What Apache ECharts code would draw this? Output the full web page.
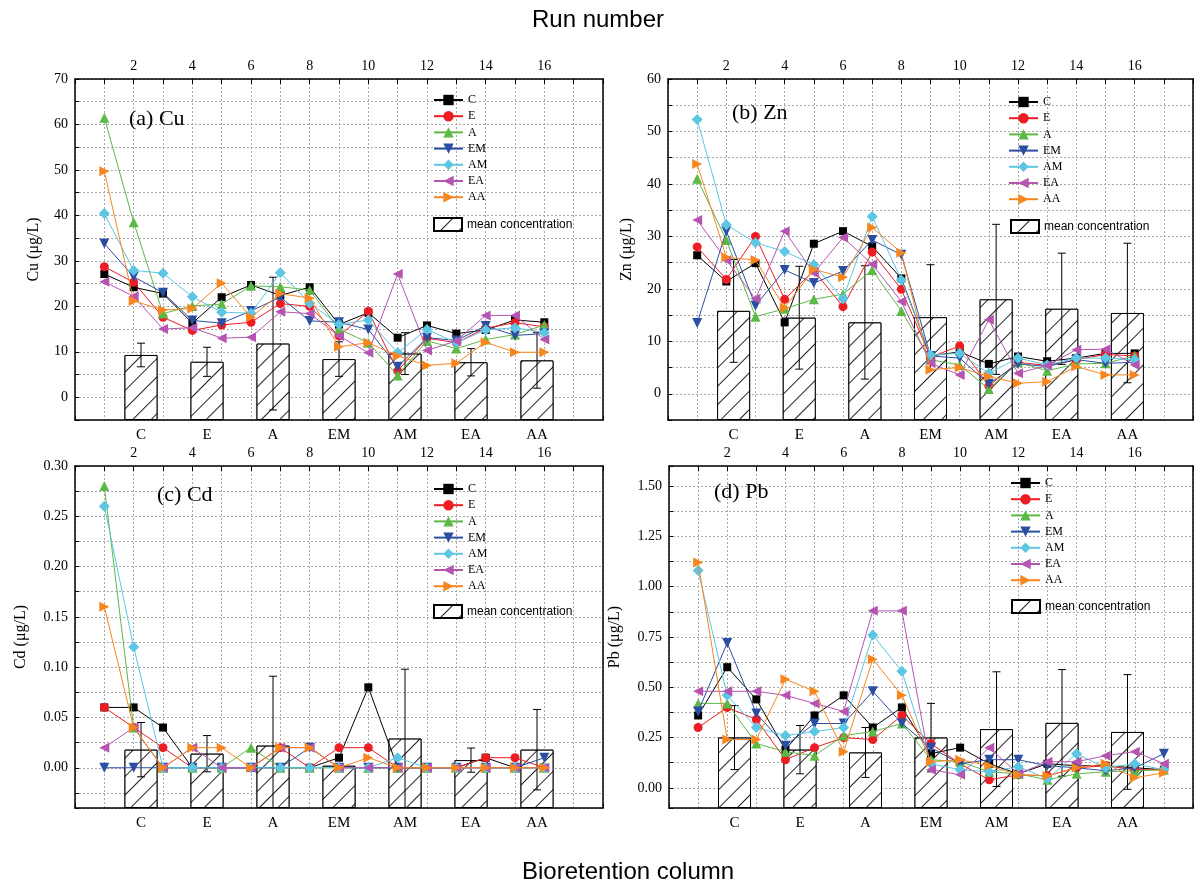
<!DOCTYPE html>
<html>
<head>
<meta charset="utf-8">
<script src="https://cdn.jsdelivr.net/npm/echarts@6/dist/echarts.min.js"></script>
<style>html,body{margin:0;padding:0;background:#fff;}#c{width:1196px;height:884px;}</style>
</head>
<body>
<div id="c"></div>
<script>
// ---------- data ----------
const seriesNames = ['C', 'E', 'A', 'EM', 'AM', 'EA', 'AA'];
const columns = ['C', 'E', 'A', 'EM', 'AM', 'EA', 'AA'];
const runs16 = [1, 2, 3, 4, 5, 6, 7, 8, 9, 10, 11, 12, 13, 14, 15, 16];
const runs17 = [1, 2, 3, 4, 5, 6, 7, 8, 9, 10, 11, 12, 13, 14, 15, 16, 17];
const topTicks = [2, 4, 6, 8, 10, 12, 14, 16];

// (a) Cu
const cuC  = [27.1, 24.2, 22.8, 16.3, 22.0, 24.7, 22.4, 24.2, 16.0, 18.6, 13.1, 15.8, 14.0, 14.8, 17.0, 16.5];
const cuE  = [28.7, 25.3, 17.6, 14.7, 15.9, 16.5, 20.6, 20.0, 13.5, 18.9, 5.8, 13.0, 12.0, 15.2, 16.4, 15.5];
const cuA  = [61.5, 38.5, 18.4, 20.1, 20.5, 24.5, 24.3, 23.6, 15.0, 12.0, 4.8, 12.4, 10.7, 12.7, 13.8, 15.9];
const cuEM = [33.8, 26.5, 23.0, 16.9, 16.3, 19.0, 22.0, 16.8, 16.5, 14.9, 6.7, 13.1, 12.5, 15.7, 13.6, 14.0];
const cuAM = [40.4, 27.9, 27.3, 22.1, 18.7, 18.5, 27.4, 20.7, 16.0, 17.0, 9.8, 14.9, 12.0, 14.8, 15.3, 14.2];
const cuEA = [25.4, 22.2, 15.0, 15.3, 13.0, 13.2, 18.8, 18.4, 13.5, 9.8, 27.1, 10.3, 12.4, 18.0, 18.0, 12.7];
const cuAA = [49.7, 21.2, 19.2, 19.5, 25.1, 17.6, 22.8, 21.8, 11.1, 12.0, 9.1, 7.0, 7.5, 12.1, 9.9, 9.9];
const cuMean = [9.3, 7.8, 11.8, 8.4, 9.6, 7.7, 8.1];
const cuSd   = [2.6, 3.2, 14.6, 3.8, 4.6, 3.0, 6.1];

// (b) Zn
const znC  = [26.4, 21.4, 24.9, 13.6, 28.6, 31.0, 28.1, 22.0, 7.2, 8.0, 5.7, 7.1, 6.2, 6.8, 7.7, 7.7];
const znE  = [28.0, 21.8, 30.0, 18.0, 23.5, 16.6, 27.0, 19.9, 7.0, 9.1, 1.5, 6.0, 5.4, 6.5, 7.5, 7.2];
const znA  = [41.0, 29.3, 14.7, 16.2, 18.0, 19.0, 23.6, 15.8, 6.5, 5.5, 0.9, 6.0, 4.4, 5.7, 5.8, 7.2];
const znEM = [13.5, 31.0, 16.8, 23.6, 21.1, 23.4, 29.3, 26.5, 7.2, 6.8, 1.9, 5.7, 5.2, 6.5, 5.8, 6.0];
const znAM = [52.3, 32.2, 28.8, 27.1, 24.6, 18.1, 33.8, 21.7, 7.4, 7.7, 3.9, 6.8, 5.5, 6.8, 6.8, 6.5];
const znEA = [33.1, 25.5, 18.1, 31.0, 23.0, 29.8, 24.7, 17.6, 5.8, 3.6, 14.1, 3.9, 5.4, 8.4, 8.5, 5.5];
const znAA = [43.8, 26.0, 25.5, 16.4, 23.7, 22.2, 31.7, 26.9, 4.6, 5.0, 3.3, 2.0, 2.3, 5.2, 3.6, 3.6];
const znMean = [15.8, 14.5, 13.6, 14.6, 18.0, 16.2, 15.4];
const znSd   = [9.8, 9.8, 10.8, 10.0, 14.3, 10.6, 13.3];

// (c) Cd
const cdC  = [0.06, 0.06, 0.04, 0, 0, 0, 0, 0, 0.01, 0.08, 0, 0, 0, 0.01, 0, 0];
const cdE  = [0.06, 0.04, 0.02, 0, 0, 0, 0.02, 0, 0.02, 0.02, 0, 0, 0, 0.01, 0.01, 0];
const cdA  = [0.28, 0.04, 0, 0, 0, 0.02, 0, 0, 0, 0, 0, 0, 0, 0, 0, 0];
const cdEM = [0, 0, 0, 0, 0, 0, 0, 0.02, 0, 0, 0, 0, 0, 0, 0, 0.01];
const cdAM = [0.26, 0.12, 0, 0, 0, 0, 0, 0, 0, 0, 0.01, 0, 0, 0, 0, 0];
const cdEA = [0.02, 0.04, 0, 0.02, 0, 0, 0.02, 0.02, 0, 0, 0, 0, 0, 0, 0, 0];
const cdAA = [0.16, 0.04, 0, 0.02, 0.02, 0, 0.02, 0.02, 0, 0.01, 0, 0, 0, 0, 0, 0];
const cdMean = [0.018, 0.014, 0.022, 0.002, 0.029, 0.0076, 0.018];
const cdSd   = [0.027, 0.018, 0.069, 0.002, 0.069, 0.012, 0.040];

// (d) Pb
const pbC  = [0.36, 0.60, 0.44, 0.19, 0.36, 0.46, 0.30, 0.40, 0.17, 0.20, 0.12, 0.07, 0.12, 0.11, 0.11, 0.10, 0.09];
const pbE  = [0.30, 0.40, 0.34, 0.14, 0.20, 0.25, 0.24, 0.36, 0.22, 0.12, 0.04, 0.065, 0.06, 0.10, 0.11, 0.09, 0.09];
const pbA  = [0.42, 0.42, 0.22, 0.18, 0.16, 0.26, 0.28, 0.32, 0.14, 0.13, 0.08, 0.07, 0.04, 0.07, 0.08, 0.085, 0.09];
const pbEM = [0.38, 0.72, 0.37, 0.21, 0.32, 0.32, 0.48, 0.32, 0.20, 0.12, 0.14, 0.14, 0.11, 0.10, 0.085, 0.10, 0.17];
const pbAM = [1.08, 0.46, 0.30, 0.26, 0.28, 0.30, 0.76, 0.58, 0.12, 0.09, 0.08, 0.105, 0.045, 0.17, 0.10, 0.12, 0.09];
const pbEA = [0.48, 0.48, 0.48, 0.46, 0.42, 0.38, 0.88, 0.88, 0.09, 0.065, 0.20, 0.07, 0.13, 0.13, 0.16, 0.18, 0.12];
const pbAA = [1.12, 0.24, 0.24, 0.54, 0.48, 0.18, 0.64, 0.46, 0.13, 0.14, 0.11, 0.065, 0.06, 0.10, 0.12, 0.05, 0.075];
const pbMean = [0.25, 0.19, 0.176, 0.25, 0.292, 0.323, 0.278];
const pbSd   = [0.159, 0.12, 0.124, 0.17, 0.285, 0.265, 0.285];

// ---------- styles ----------
const SERIF = 'Liberation Serif';
const SANS = 'Liberation Sans';
const colors = ['#000000', '#ee1d23', '#5cb946', '#2b4ea2', '#5dc6e2', '#b655b1', '#f7861f'];
const symbols = ['rect', 'circle', 'triangle', 'triangle', 'diamond', 'triangle', 'triangle'];
const rotates = [0, 0, 0, 180, 0, 90, -90];
const sizes = [8, 9, 10, 10, 11, 10, 10];

const panels = [
  { label: '(a) Cu', yName: 'Cu (μg/L)', runs: runs16, lines: [cuC, cuE, cuA, cuEM, cuAM, cuEA, cuAA], mean: cuMean, sd: cuSd,
    ymin: -5, ymax: 70, step: 5, labStep: 10, dec: 0,
    grid: { left: 75, top: 79, width: 528, height: 341 }, labelPos: [129, 108],
    legLines: [433, 94], legBar: [433, 217] },
  { label: '(b) Zn', yName: 'Zn (μg/L)', runs: runs16, lines: [znC, znE, znA, znEM, znAM, znEA, znAA], mean: znMean, sd: znSd,
    ymin: -5, ymax: 60, step: 5, labStep: 10, dec: 0,
    grid: { left: 668, top: 79, width: 527, height: 341 }, labelPos: [732, 102],
    legLines: [1008, 96], legBar: [1010, 219] },
  { label: '(c) Cd', yName: 'Cd (μg/L)', runs: runs16, lines: [cdC, cdE, cdA, cdEM, cdAM, cdEA, cdAA], mean: cdMean, sd: cdSd,
    ymin: -0.04, ymax: 0.30, step: 0.025, labStep: 0.05, dec: 2, useMinMax: true,
    grid: { left: 75, top: 466, width: 528, height: 342 }, labelPos: [157, 484],
    legLines: [433, 483], legBar: [433, 604] },
  { label: '(d) Pb', yName: 'Pb (μg/L)', runs: runs17, lines: [pbC, pbE, pbA, pbEM, pbAM, pbEA, pbAA], mean: pbMean, sd: pbSd,
    ymin: -0.1, ymax: 1.6, step: 0.125, labStep: 0.25, dec: 2, useMinMax: true,
    grid: { left: 669, top: 466, width: 526, height: 342 }, labelPos: [714, 481],
    legLines: [1010, 477], legBar: [1011, 599] }
];

const hatch = {
  symbol: 'rect', symbolSize: 1, dashArrayX: [1, 0], dashArrayY: [1, 12],
  rotation: -Math.PI / 4, color: '#222', backgroundColor: '#fff'
};

const grids = [], xAxes = [], yAxes = [], series = [], legends = [];
const catsPadded = [''].concat(columns).concat(['']);

function isMult(v, s) { const q = v / s; return Math.abs(q - Math.round(q)) < 1e-6; }

panels.forEach((p, i) => {
  grids.push(Object.assign({ containLabel: false, show: false }, p.grid));
  // top run-number axis
  xAxes.push({
    gridIndex: i, type: 'value', position: 'top', min: 0, max: 18, interval: 1,
    axisLine: { show: true, onZero: false, lineStyle: { color: '#000', width: 1.5 } },
    axisTick: { show: true, inside: true, length: 5, lineStyle: { color: '#000' } },
    axisLabel: { color: '#000', fontFamily: SERIF, fontSize: 14, margin: 6,
      formatter: v => (topTicks.indexOf(v) >= 0 ? String(v) : '') },
    splitLine: { show: true, lineStyle: { color: '#a8a8a8', width: 1, type: [2, 2] } }
  });
  // bottom column axis
  xAxes.push({
    gridIndex: i, type: 'category', position: 'bottom', data: catsPadded, boundaryGap: false,
    axisLine: { show: true, onZero: false, lineStyle: { color: '#000', width: 1.5 } },
    axisTick: { show: true, inside: true, length: 4, lineStyle: { color: '#000' } },
    axisLabel: { color: '#000', fontFamily: SERIF, fontSize: 15, margin: 8, interval: 0 },
    splitLine: { show: false }
  });
  const yMain = {
    gridIndex: i, type: 'value', position: 'left', min: p.ymin, max: p.ymax,
    name: p.yName, nameLocation: 'middle', nameGap: p.dec ? 46 : 33,
    nameTextStyle: { color: '#000', fontFamily: SERIF, fontSize: 16 },
    axisLine: { show: true, onZero: false, lineStyle: { color: '#000', width: 1.5 } },
    axisTick: { show: true, inside: true, length: 4, lineStyle: { color: '#000' } },
    axisLabel: { color: '#000', fontFamily: SERIF, fontSize: 14, margin: 7,
      showMinLabel: true, showMaxLabel: true,
      formatter: v => (v >= -1e-9 && isMult(v, p.labStep) && v <= p.ymax + 1e-9 ? Math.abs(v).toFixed(p.dec) : '') },
    splitLine: { show: true, lineStyle: { color: '#a8a8a8', width: 1, type: [2, 2] } }
  };
  if (p.useMinMax) { yMain.minInterval = p.step; yMain.maxInterval = p.step; }
  else { yMain.interval = p.step; }
  yAxes.push(yMain);
  // hidden bar axis (bars start at the bottom of the plot)
  yAxes.push({
    gridIndex: i, type: 'value', position: 'right', min: 0, max: p.ymax - p.ymin,
    axisLine: { show: true, onZero: false, lineStyle: { color: '#000', width: 1.5 } },
    axisTick: { show: false }, axisLabel: { show: false }, splitLine: { show: false }
  });

  const xTop = 2 * i, xBot = 2 * i + 1, yM = 2 * i, yB = 2 * i + 1;
  // bars
  series.push({
    type: 'bar', name: 'mean concentration', xAxisIndex: xBot, yAxisIndex: yB,
    barWidth: 33, z: 1, silent: true,
    itemStyle: { color: '#fff', borderColor: '#000', borderWidth: 1, decal: hatch },
    data: [null].concat(p.mean.map(m => m - p.ymin)).concat([null])
  });
  // error bars
  series.push({
    type: 'custom', name: 'sd', xAxisIndex: xBot, yAxisIndex: yM, z: 2, silent: true, clip: true,
    data: columns.map((c, k) => [c, p.mean[k], p.sd[k]]),
    renderItem: (params, api) => {
      const x = api.value(0), m = api.value(1), s = api.value(2);
      const t = api.coord([x, m + s]), b = api.coord([x, m - s]);
      const w = 4, st = { stroke: '#000', lineWidth: 1 };
      return { type: 'group', children: [
        { type: 'line', shape: { x1: t[0], y1: t[1], x2: b[0], y2: b[1] }, style: st },
        { type: 'line', shape: { x1: t[0] - w, y1: t[1], x2: t[0] + w, y2: t[1] }, style: st },
        { type: 'line', shape: { x1: b[0] - w, y1: b[1], x2: b[0] + w, y2: b[1] }, style: st }
      ] };
    }
  });
  // run lines
  p.lines.forEach((arr, k) => {
    series.push({
      type: 'line', name: seriesNames[k], xAxisIndex: xTop, yAxisIndex: yM, z: 3 + k,
      symbol: symbols[k], symbolRotate: rotates[k], symbolSize: sizes[k],
      lineStyle: { color: colors[k], width: 1 },
      itemStyle: { color: colors[k] }, silent: true,
      data: p.runs.map((r, j) => [r, arr[j]])
    });
  });
  legends.push({
    orient: 'vertical', left: p.legLines[0], top: p.legLines[1], itemWidth: 29, itemHeight: 13, itemGap: 4.2,
    selectedMode: false, data: seriesNames, padding: 0,
    textStyle: { color: '#000', fontFamily: SERIF, fontSize: 12 }
  });
  legends.push({
    orient: 'vertical', left: p.legBar[0], top: p.legBar[1], itemWidth: 28, itemHeight: 13, padding: 0,
    icon: 'rect', selectedMode: false, data: ['mean concentration'],
    textStyle: { color: '#000', fontFamily: SANS, fontSize: 12 }
  });
});

const titles = [
  { text: 'Run number', left: 'center', top: 3, textStyle: { fontFamily: SANS, fontSize: 24, fontWeight: 'normal', color: '#000' } },
  { text: 'Bioretention column', left: 517, top: 855, textStyle: { fontFamily: SANS, fontSize: 24, fontWeight: 'normal', color: '#000' } }
].concat(panels.map(p => ({
  text: p.label, left: p.labelPos[0], top: p.labelPos[1], padding: 0,
  textStyle: { fontFamily: SERIF, fontSize: 22, fontWeight: 'normal', color: '#000' }
})));

const chart = echarts.init(document.getElementById('c'), null, { renderer: 'canvas' });
chart.setOption({
  backgroundColor: '#fff',
  animation: false,
  title: titles,
  grid: grids,
  xAxis: xAxes,
  yAxis: yAxes,
  legend: legends,
  series: series
});
</script>
</body>
</html>
